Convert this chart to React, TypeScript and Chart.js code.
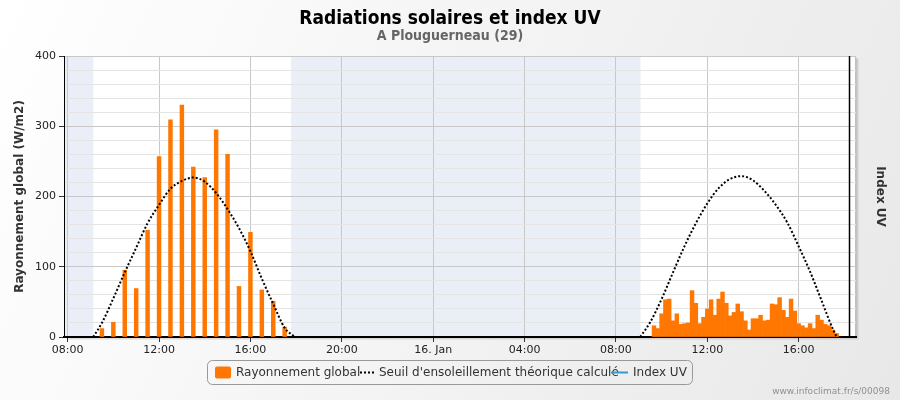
import React, { useEffect, useRef } from "react";
import { Chart, registerables } from "chart.js";

Chart.register(...registerables);

const titleText = "Radiations solaires et index UV";
const subtitleText = "A Plouguerneau (29)";
const yTitleText = "Rayonnement global (W/m2)";
const y2TitleText = "Index UV";
const creditText = "www.infoclimat.fr/s/00098";

const seriesBarLabel = "Rayonnement global";
const seriesCurveLabel = "Seuil d'ensoleillement théorique calculé";
const seriesUvLabel = "Index UV";

// x axis in hours since 15 Jan 00:00
const xMin = 7.84;
const xMax = 42.51;
const xTickHours = [8, 12, 16, 20, 24, 28, 32, 36, 40];
const xTickLabels = ["08:00", "12:00", "16:00", "20:00", "16. Jan", "04:00", "08:00", "12:00", "16:00"];

const yMin = 0;
const yMax = 400;
const yMinorStep = 20;
const yMajorStep = 100;

// Day 1 (15 Jan) global radiation, W/m2
const day1BarTimes = ["09:30", "10:00", "10:30", "11:00", "11:30", "12:00", "12:30", "13:00", "13:30", "14:00", "14:30", "15:00", "15:30", "16:00", "16:30", "17:00", "17:30"];
const day1BarValues = [12, 21, 95, 69, 152, 257, 309, 330, 242, 227, 295, 260, 72, 149, 67, 51, 14];

// Day 2 (16 Jan) global radiation, W/m2
const day2BarTimes = [
  "09:40", "09:50", "10:00", "10:10", "10:20", "10:30", "10:40", "10:50", "11:00", "11:10",
  "11:20", "11:30", "11:40", "11:50", "12:00", "12:10", "12:20", "12:30", "12:40", "12:50",
  "13:00", "13:10", "13:20", "13:30", "13:40", "13:50", "14:00", "14:10", "14:20", "14:30",
  "14:40", "14:50", "15:00", "15:10", "15:20", "15:30", "15:40", "15:50", "16:00", "16:10",
  "16:20", "16:30", "16:40", "16:50", "17:00", "17:10", "17:20", "17:30", "17:40",
];
const day2BarValues = [
  16, 12, 33, 53, 54, 23, 33, 18, 19, 20,
  66, 48, 19, 28, 40, 53, 31, 54, 64, 48,
  30, 35, 47, 36, 23, 10, 26, 26, 31, 23,
  24, 47, 46, 56, 38, 28, 54, 37, 19, 16,
  13, 19, 12, 31, 24, 18, 16, 10, 5,
];

// Theoretical threshold curve
const day1CurveTimes = ["09:07", "09:30", "10:00", "10:30", "11:00", "11:30", "12:00", "12:30", "13:00", "13:30", "14:00", "14:30", "15:00", "15:30", "16:00", "16:30", "17:00", "17:30", "17:57"];
const day1CurveValues = [0, 20, 55, 92, 127, 162, 188, 211, 222, 227, 221, 205, 182, 155, 122, 83, 47, 13, 0];
const day2CurveTimes = ["09:04", "09:30", "10:00", "10:30", "11:00", "11:30", "12:00", "12:30", "13:00", "13:30", "14:00", "14:30", "15:00", "15:30", "16:00", "16:30", "17:00", "17:30", "17:40"];
const day2CurveValues = [0, 21, 54, 92, 129, 162, 190, 212, 225, 229, 223, 208, 188, 163, 129, 93, 52, 11, 0];

// UV index: no values
const uvTimes: string[] = [];
const uvValues: number[] = [];

// Night bands (hours since 15 Jan 00:00)
const nightBandStarts = [7.5, 17.78];
const nightBandEnds = [9.12, 33.08];
const nowMarkHour = 42.19;

const toHours = (t: string, day: number) => {
  const [h, m] = t.split(":").map(Number);
  return day * 24 + h + m / 60;
};

const FONT = "'DejaVu Sans', sans-serif";

const decorPlugin = {
  id: "decor",
  beforeDraw(chart: any) {
    const ctx = chart.ctx as CanvasRenderingContext2D;
    const { width, height } = chart;
    const { left, top, right, bottom } = chart.chartArea;
    ctx.save();
    const g = ctx.createLinearGradient(0, 0, width, height);
    g.addColorStop(0, "#ffffff");
    g.addColorStop(1, "#e8e8e8");
    ctx.fillStyle = g;
    ctx.fillRect(0, 0, width, height);
    // shadow
    for (let i = 1; i <= 3; i++) {
      ctx.fillStyle = "rgba(0,0,0,0.06)";
      ctx.fillRect(left + i, top + i, right - left, bottom - top);
    }
    ctx.fillStyle = "#ffffff";
    ctx.fillRect(left, top, right - left, bottom - top);
    // night bands
    const xs = chart.scales.x;
    ctx.fillStyle = "#eaeef7";
    nightBandStarts.forEach((s, i) => {
      const a = Math.max(left, xs.getPixelForValue(s));
      const b = Math.min(right, xs.getPixelForValue(nightBandEnds[i]));
      if (b > a) ctx.fillRect(a, top, b - a, bottom - top);
    });
    // top/right border
    ctx.strokeStyle = "#c0c0c0";
    ctx.lineWidth = 1;
    ctx.beginPath();
    ctx.moveTo(left, top + 0.5);
    ctx.lineTo(right - 0.5, top + 0.5);
    ctx.lineTo(right - 0.5, bottom);
    ctx.stroke();
    ctx.restore();
  },
  afterDraw(chart: any) {
    const ctx = chart.ctx as CanvasRenderingContext2D;
    const { left, top, right, bottom } = chart.chartArea;
    const xs = chart.scales.x;
    ctx.save();
    // now marker
    const nx = Math.round(xs.getPixelForValue(nowMarkHour)) + 0.5;
    ctx.strokeStyle = "#000";
    ctx.lineWidth = 1.5;
    ctx.beginPath();
    ctx.moveTo(nx, top);
    ctx.lineTo(nx, bottom);
    ctx.stroke();

    // titles
    ctx.textAlign = "center";
    ctx.textBaseline = "middle";
    ctx.fillStyle = "#000";
    ctx.font = "bold 19px 'DejaVu Sans Condensed', 'DejaVu Sans', sans-serif";
    ctx.fillText(titleText, 450, 19);
    ctx.fillStyle = "#666";
    ctx.font = "bold 14px 'DejaVu Sans Condensed', 'DejaVu Sans', sans-serif";
    ctx.fillText(subtitleText, 450, 36);

    // axis titles
    const cy = (top + bottom) / 2;
    ctx.fillStyle = "#333";
    ctx.font = "bold 12px " + FONT;
    ctx.save();
    ctx.translate(20, cy);
    ctx.rotate(-Math.PI / 2);
    ctx.fillText(yTitleText, 0, 0);
    ctx.restore();
    ctx.save();
    ctx.translate(880, cy);
    ctx.rotate(Math.PI / 2);
    ctx.fillText(y2TitleText, 0, 0);
    ctx.restore();

    // legend
    const lx = 207.5, ly = 360.5, lw = 485, lh = 24, r = 5;
    ctx.strokeStyle = "#999";
    ctx.lineWidth = 1;
    ctx.beginPath();
    ctx.moveTo(lx + r, ly);
    ctx.arcTo(lx + lw, ly, lx + lw, ly + lh, r);
    ctx.arcTo(lx + lw, ly + lh, lx, ly + lh, r);
    ctx.arcTo(lx, ly + lh, lx, ly, r);
    ctx.arcTo(lx, ly, lx + lw, ly, r);
    ctx.closePath();
    ctx.stroke();
    const my = ly + lh / 2;
    ctx.fillStyle = "#ff7700";
    ctx.beginPath();
    (ctx as any).roundRect(215, my - 6, 16, 12, 2);
    ctx.fill();
    ctx.textAlign = "left";
    ctx.fillStyle = "#333";
    ctx.font = "12px " + FONT;
    ctx.fillText(seriesBarLabel, 236, my);
    ctx.strokeStyle = "#000";
    ctx.lineWidth = 2;
    ctx.setLineDash([2, 2]);
    ctx.beginPath();
    ctx.moveTo(360, my);
    ctx.lineTo(374, my);
    ctx.stroke();
    ctx.setLineDash([]);
    ctx.fillText(seriesCurveLabel, 379, my);
    ctx.strokeStyle = "#2f9bd4";
    ctx.beginPath();
    ctx.moveTo(611, my);
    ctx.lineTo(628, my);
    ctx.stroke();
    ctx.fillText(seriesUvLabel, 633, my);

    // credit
    ctx.textAlign = "right";
    ctx.fillStyle = "#909090";
    ctx.font = "9px " + FONT;
    ctx.fillText(creditText, 890, 392);
    ctx.restore();
  },
};

export default function App() {
  const ref = useRef<HTMLCanvasElement>(null);
  useEffect(() => {
    document.body.style.margin = "0";
    const canvas = ref.current!;
    const barData = [
      ...day1BarTimes.map((t, i) => ({ x: toHours(t, 0), y: day1BarValues[i] })),
      ...day2BarTimes.map((t, i) => ({ x: toHours(t, 1), y: day2BarValues[i] })),
    ];
    const curveData: any[] = [
      ...day1CurveTimes.map((t, i) => ({ x: toHours(t, 0), y: day1CurveValues[i] })),
      { x: 24, y: null },
      ...day2CurveTimes.map((t, i) => ({ x: toHours(t, 1), y: day2CurveValues[i] })),
    ];
    const uvData = uvTimes.map((t, i) => ({ x: toHours(t, 1), y: uvValues[i] }));

    const chart = new Chart(canvas, {
      type: "bar",
      data: {
        datasets: [
          {
            type: "line",
            label: seriesCurveLabel,
            data: curveData,
            borderColor: "#000",
            borderWidth: 2,
            borderDash: [2, 2],
            pointRadius: 0,
            fill: false,
            spanGaps: false,
            cubicInterpolationMode: "monotone",
            yAxisID: "y",
            order: 1,
          } as any,
          {
            type: "bar",
            label: seriesBarLabel,
            data: barData,
            backgroundColor: "#ff7700",
            borderWidth: 0,
            barPercentage: 1,
            categoryPercentage: 1,
            yAxisID: "y",
            order: 2,
          } as any,
          {
            type: "line",
            label: seriesUvLabel,
            data: uvData,
            borderColor: "#2f9bd4",
            borderWidth: 2,
            pointRadius: 0,
            yAxisID: "y2",
            order: 0,
          } as any,
        ],
      },
      options: {
        responsive: false,
        animation: false,
        layout: { padding: { left: 0, right: 44, top: 56, bottom: 0 } },
        plugins: {
          legend: { display: false },
          tooltip: { enabled: false },
          title: { display: false },
        },
        scales: {
          x: {
            type: "linear",
            min: xMin,
            max: xMax,
            offset: false,
            afterBuildTicks: (axis: any) => {
              axis.ticks = xTickHours.map((v) => ({ value: v }));
            },
            afterFit: (axis: any) => {
              axis.height = 63;
            },
            ticks: {
              autoSkip: false,
              maxRotation: 0,
              color: "#222",
              font: { family: FONT, size: 11 },
              padding: 2,
              callback: (v: any) => {
                const i = xTickHours.indexOf(Number(v));
                return i >= 0 ? xTickLabels[i] : "";
              },
            },
            grid: {
              offset: false,
              color: "#c8c8c8",
              lineWidth: 1,
              drawTicks: true,
              tickLength: 5,
              tickColor: "#333",
            },
            border: { color: "#000", width: 2 },
          } as any,
          y: {
            min: yMin,
            max: yMax,
            afterFit: (axis: any) => {
              axis.width = 64;
            },
            ticks: {
              stepSize: yMinorStep,
              autoSkip: false,
              color: "#222",
              font: { family: FONT, size: 11 },
              padding: 3,
              callback: (v: any) => (Number(v) % yMajorStep === 0 ? String(v) : ""),
            },
            grid: {
              color: (c: any) => (c.tick && c.tick.value % yMajorStep === 0 ? "#c8c8c8" : "#e4e4e4"),
              tickColor: (c: any) => (c.tick && c.tick.value % yMajorStep === 0 ? "#333" : "rgba(0,0,0,0)"),
              drawTicks: true,
              tickLength: 5,
            },
            border: { color: "#000", width: 1 },
          } as any,
          y2: {
            display: false,
            position: "right",
            min: 0,
            max: 10,
          } as any,
        },
      } as any,
      plugins: [decorPlugin],
    });
    return () => chart.destroy();
  }, []);
  return <canvas ref={ref} width={900} height={400} style={{ display: "block" }} />;
}
